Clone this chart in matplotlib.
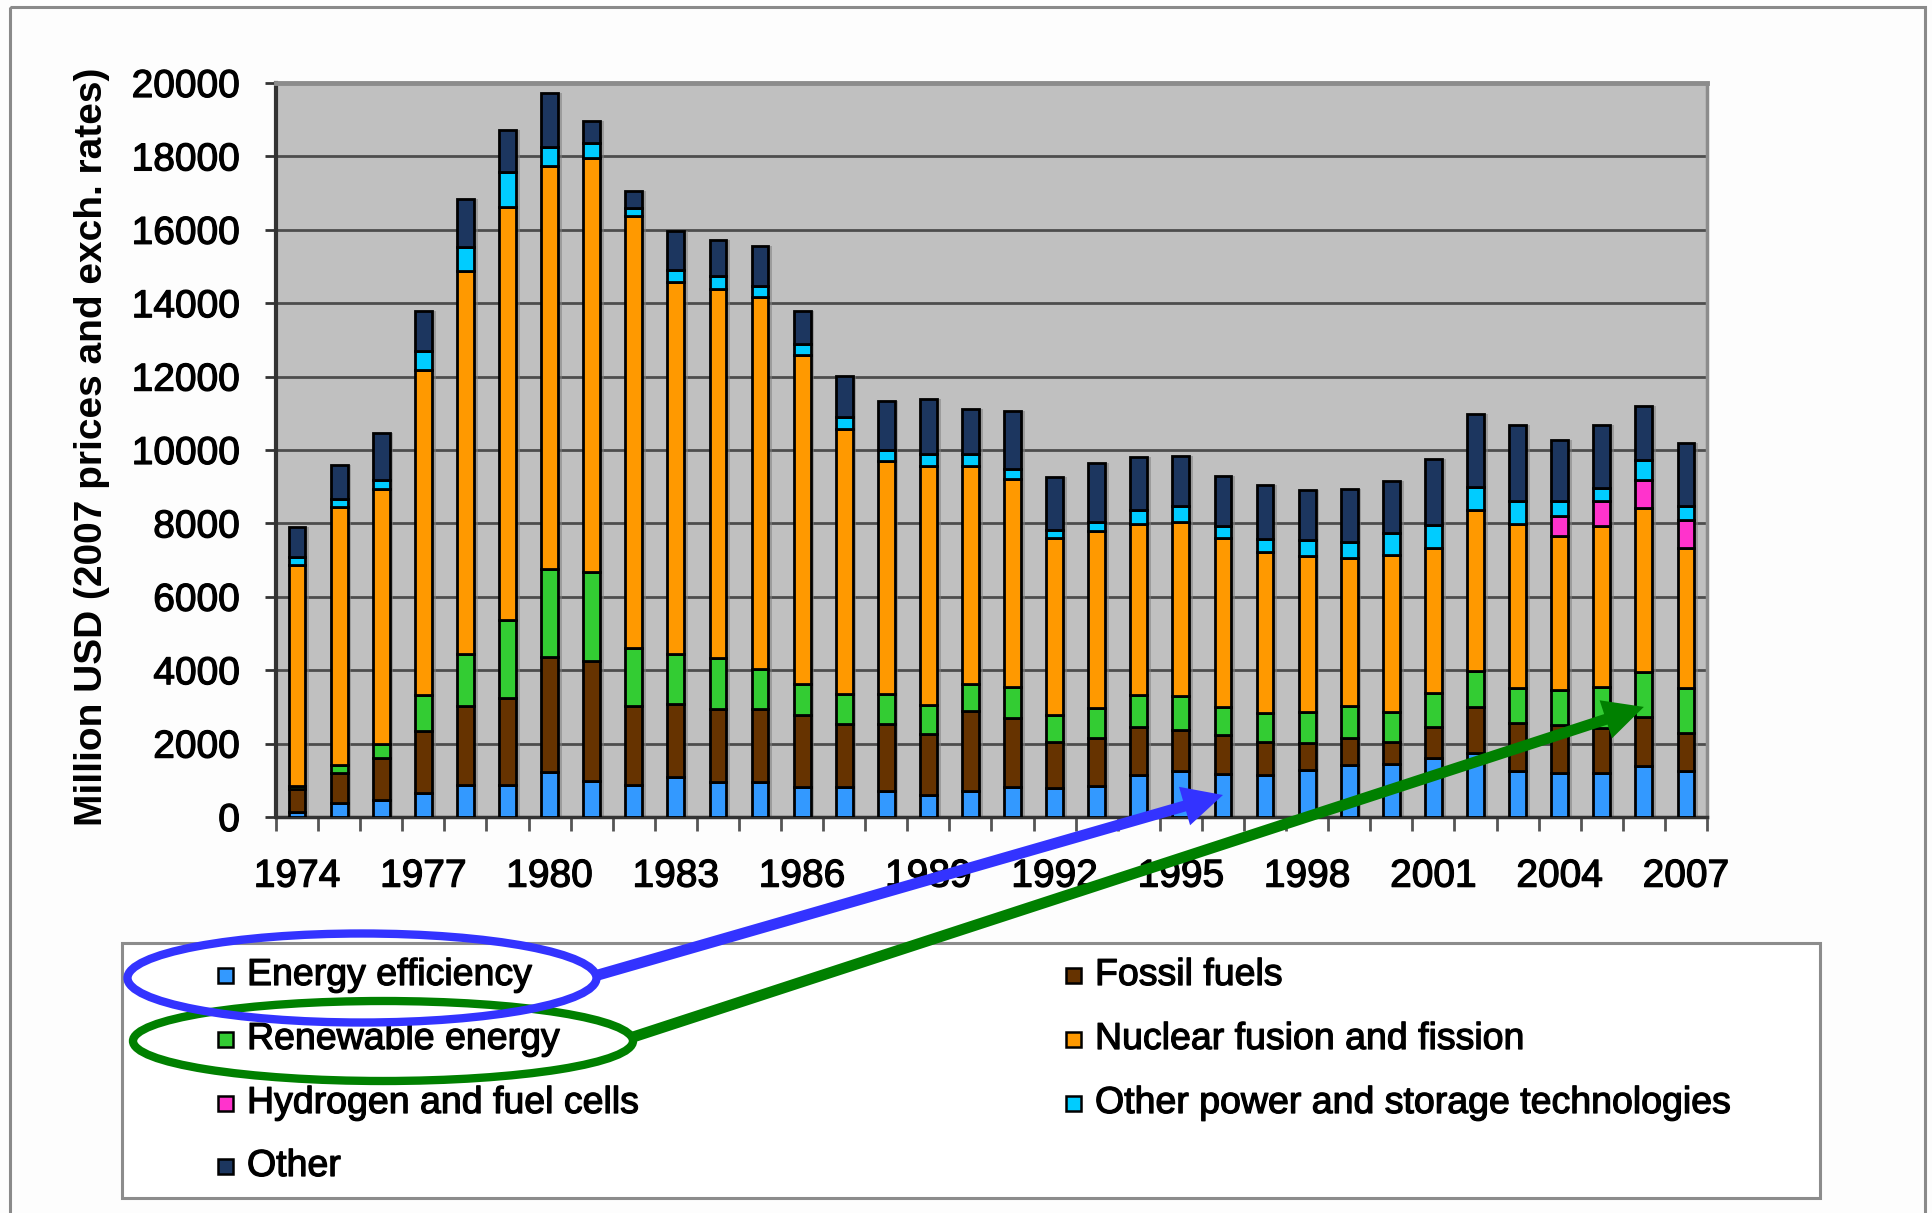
import matplotlib

matplotlib.use("Agg")
import matplotlib.pyplot as plt
import matplotlib.patheffects as pe
import numpy as np
from matplotlib.patches import Ellipse, Rectangle

plt.rcParams["font.family"] = ["Liberation Sans", "DejaVu Sans"]

# Public energy RD&D budgets, million USD (2007 prices and exchange rates)
years = list(range(1974, 2008))
energy_efficiency = [130, 370, 460, 660, 860, 860, 1220, 990, 860, 1080,
                     960, 960, 810, 810, 720, 610, 720, 810, 780, 850,
                     1150, 1240, 1160, 1150, 1280, 1420, 1440, 1600, 1740, 1240,
                     1200, 1190, 1390, 1240]
fossil_fuels = [620, 820, 1150, 1690, 2160, 2380, 3150, 3270, 2160, 1990,
                1970, 1970, 1970, 1720, 1810, 1640, 2170, 1900, 1250, 1290,
                1310, 1130, 1080, 880, 730, 730, 610, 860, 1270, 1320,
                1300, 1230, 1340, 1060]
renewable_energy = [100, 240, 370, 980, 1410, 2120, 2380, 2420, 1580, 1360,
                    1400, 1100, 840, 820, 820, 790, 730, 820, 750, 820,
                    870, 930, 770, 800, 860, 880, 810, 920, 970, 950,
                    960, 1130, 1230, 1210]
nuclear = [6020, 7010, 6960, 8840, 10450, 11270, 11000, 11270, 11780, 10160,
           10050, 10150, 8970, 7220, 6340, 6520, 5940, 5690, 4830, 4820,
           4650, 4750, 4590, 4380, 4230, 4020, 4290, 3950, 4390, 4480,
           4190, 4370, 4460, 3820]
hydrogen = [0] * 30 + [540, 680, 770, 770]
other_power_storage = [220, 220, 240, 530, 660, 940, 500, 410, 220, 320,
                       350, 290, 300, 330, 310, 330, 330, 250, 220, 270,
                       390, 430, 320, 360, 450, 440, 590, 630, 620, 610,
                       410, 360, 550, 380]
other = [810, 930, 1270, 1100, 1310, 1150, 1490, 600, 460, 1060,
         1000, 1100, 910, 1120, 1330, 1500, 1230, 1590, 1430, 1590,
         1440, 1370, 1380, 1480, 1370, 1450, 1410, 1800, 1980, 2070,
         1680, 1710, 1450, 1710]

series_names = ["Energy efficiency", "Fossil fuels", "Renewable energy",
                "Nuclear fusion and fission", "Hydrogen and fuel cells",
                "Other power and storage technologies", "Other"]
series_values = [energy_efficiency, fossil_fuels, renewable_energy, nuclear,
                 hydrogen, other_power_storage, other]
series_colors = ["#3399ff", "#663300", "#33cc33", "#ff9900",
                 "#ff33cc", "#00ccff", "#1c365f"]

# legend is filled row by row in two columns
legend_order = [0, 2, 4, 6, 1, 3, 5]

W, H = 1933, 1213
fig = plt.figure(figsize=(W / 100, H / 100), dpi=100, facecolor="#fdfdfd")

# a thin stroke round the glyphs gives the heavier print look
heavy = [pe.withStroke(linewidth=0.9, foreground="black")]

ax = fig.add_axes([276 / W, 1 - 817 / H, (1707 - 276) / W, (817 - 83) / H])
ax.set_facecolor("#c0c0c0")

x = np.arange(len(years))
bar_width = 0.4
totals = np.sum(np.array(series_values), axis=0)

# soft drop shadow behind each stack
ax.bar(x + 0.09, totals, bar_width, color="#808080", alpha=0.55,
       linewidth=0, zorder=2)

bottom = np.zeros(len(years))
for values, color in zip(series_values, series_colors):
    values = np.array(values, dtype=float)
    ax.bar(x, values, bar_width, bottom=bottom, color=color,
           edgecolor="black", linewidth=2.0, zorder=3)
    bottom += values

ax.set_xlim(-0.5, len(years) - 0.5)
ax.set_ylim(0, 20000)
ax.set_yticks(range(0, 20001, 2000))
ax.set_axisbelow(True)
ax.yaxis.grid(True, color="#4d4d4d", linewidth=2)

label_idx = [i for i, y in enumerate(years) if (y - 1974) % 3 == 0]
ax.set_xticks(label_idx)
ax.set_xticklabels([str(years[i]) for i in label_idx])
ax.set_xticks(np.arange(-0.5, len(years), 1), minor=True)

ax.tick_params(axis="y", direction="out", length=8, width=2, color="#333333",
               pad=18, labelsize=28, labelcolor="black")
ax.tick_params(axis="x", which="major", length=0, pad=30, labelsize=28)
ax.tick_params(axis="x", which="minor", direction="out", length=10, width=2,
               color="#555555")
for lbl in ax.get_xticklabels() + ax.get_yticklabels():
    lbl.set_path_effects(heavy)

for side, color, lw in [("left", "#333333", 3), ("bottom", "#333333", 2.5),
                        ("top", "#8c8c8c", 3.5), ("right", "#8c8c8c", 2.5)]:
    ax.spines[side].set_color(color)
    ax.spines[side].set_linewidth(lw)

fig.text(92 / W, 1 - 447 / H, "Million USD (2007 prices and exch. rates)",
         rotation=90, ha="center", va="center", fontsize=28,
         fontweight="bold")

# overlay in canvas pixels for frame, legend and callouts
over = fig.add_axes([0, 0, 1, 1], zorder=5)
over.set_xlim(0, W)
over.set_ylim(H, 0)
over.axis("off")
over.patch.set_alpha(0)

over.add_patch(Rectangle((10, 7), W - 18, H + 20, fill=False,
                         edgecolor="#8a8a8a", linewidth=2.2))

over.add_patch(Rectangle((122, 943), 1698, 255, facecolor="white",
                         edgecolor="#8c8c8c", linewidth=2.2, zorder=1))
col_x = [226, 1074]
row_y = [975, 1039, 1103, 1166]
for k, idx in enumerate(legend_order):
    col, row = divmod(k, 4)
    mx, my = col_x[col], row_y[row]
    over.add_patch(Rectangle((mx - 7.5, my - 7.5), 15, 15,
                             facecolor=series_colors[idx], edgecolor="black",
                             linewidth=1.8, zorder=2))
    over.text(mx + 21, my, series_names[idx], fontsize=27, ha="left",
              va="center", zorder=2, path_effects=heavy)


def to_canvas(xv, yv):
    px, py = ax.transData.transform((xv, yv))
    return px, H - py


callouts = [
    ("#008000", (383, 1041), 500, 80, (630, 1038), years.index(2006), 3000),
    ("#3333ff", (362, 978), 469, 89, (598, 975), years.index(1996), 600),
]
for color, centre, ew, eh, tail, bar_i, value in callouts:
    over.add_patch(Ellipse(centre, ew, eh, fill=False, edgecolor=color,
                           linewidth=6, zorder=3))
    tx, ty = to_canvas(bar_i, value)
    over.arrow(tail[0], tail[1], tx - tail[0], ty - tail[1], width=11,
               head_width=40, head_length=40, length_includes_head=True,
               color=color, linewidth=0, zorder=4)

fig.savefig("out.png", dpi=100, facecolor=fig.get_facecolor())
plt.close(fig)
